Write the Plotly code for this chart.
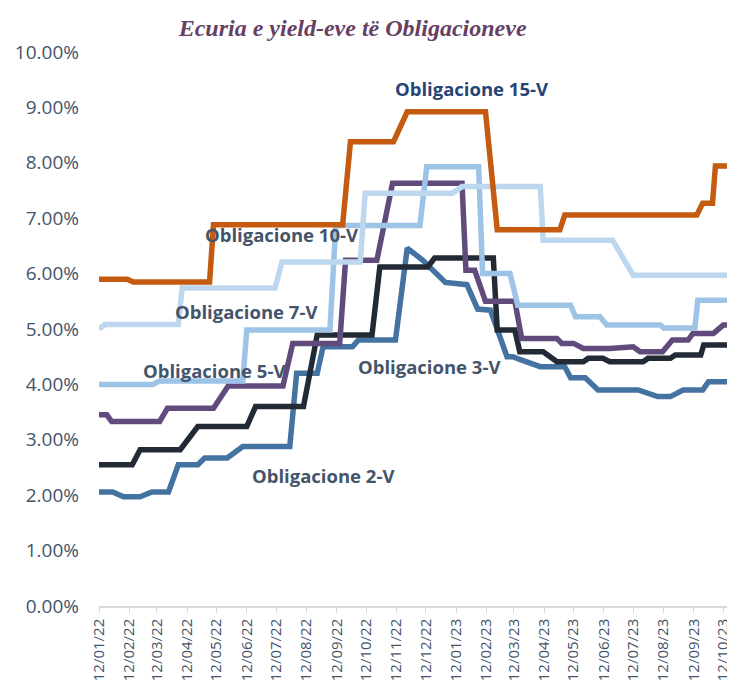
import plotly.graph_objects as go

# ---- data (dates as dd/mm/yy axis, values in %) ----
dates_15v = ["2022-01-12", "2022-02-10", "2022-02-16", "2022-05-05", "2022-05-09", "2022-09-18", "2022-09-26",
             "2022-11-09", "2022-11-23", "2023-02-11", "2023-02-23", "2023-04-28", "2023-05-03", "2023-09-15",
             "2023-09-21", "2023-10-01", "2023-10-04", "2023-10-24"]
yield_15v = [5.90, 5.90, 5.85, 5.85, 6.88, 6.88, 8.38, 8.38, 8.92, 8.92, 6.79, 6.79, 7.06, 7.06, 7.27, 7.27, 7.94, 7.94]

dates_10v = ["2022-01-12", "2022-01-18", "2022-04-03", "2022-04-07", "2022-07-11", "2022-07-18", "2022-10-06",
             "2022-10-11", "2023-01-08", "2023-01-18", "2023-04-08", "2023-04-11", "2023-06-21", "2023-07-12",
             "2023-10-22", "2023-10-24"]
yield_10v = [5.00, 5.08, 5.08, 5.74, 5.74, 6.21, 6.21, 7.45, 7.45, 7.57, 7.57, 6.60, 6.60, 5.97, 5.97, 6.12]

dates_7v = ["2022-01-12", "2022-03-08", "2022-03-15", "2022-06-08", "2022-06-12", "2022-09-05", "2022-09-11",
            "2022-12-06", "2022-12-13", "2023-02-04", "2023-02-08", "2023-03-08", "2023-03-16", "2023-05-09",
            "2023-05-14", "2023-06-08", "2023-06-15", "2023-08-09", "2023-08-12", "2023-09-13", "2023-09-16",
            "2023-10-24"]
yield_7v = [4.00, 4.00, 4.06, 4.06, 4.98, 4.98, 6.87, 6.87, 7.93, 7.93, 6.00, 6.00, 5.43, 5.43,
            5.22, 5.22, 5.07, 5.07, 5.02, 5.02, 5.52, 5.52]

dates_5v = ["2022-01-12", "2022-01-20", "2022-01-25", "2022-03-15", "2022-03-23", "2022-05-09", "2022-05-24",
            "2022-07-19", "2022-07-29", "2022-09-15", "2022-09-21", "2022-10-23", "2022-11-08", "2023-01-18",
            "2023-01-22", "2023-01-31", "2023-02-11", "2023-03-13", "2023-03-20", "2023-04-25", "2023-04-30",
            "2023-05-12", "2023-05-22", "2023-06-18", "2023-07-12", "2023-07-19", "2023-08-11", "2023-08-21",
            "2023-09-06", "2023-09-11", "2023-10-02", "2023-10-12", "2023-10-24"]
yield_5v = [3.45, 3.45, 3.33, 3.33, 3.57, 3.57, 3.97, 3.97, 4.74, 4.74, 6.24, 6.24, 7.63, 7.63,
            6.06, 6.06, 5.50, 5.50, 4.83, 4.83, 4.74, 4.74, 4.65, 4.65, 4.68, 4.59, 4.59, 4.80,
            4.80, 4.92, 4.92, 5.07, 5.07]

dates_3v = ["2022-01-12", "2022-02-15", "2022-02-23", "2022-04-05", "2022-04-23", "2022-06-12", "2022-06-21",
            "2022-08-09", "2022-08-23", "2022-10-18", "2022-10-26", "2022-12-14", "2022-12-21", "2023-02-19",
            "2023-02-23", "2023-03-13", "2023-03-18", "2023-04-11", "2023-04-25", "2023-05-22", "2023-05-27",
            "2023-06-11", "2023-06-18", "2023-07-22", "2023-07-27", "2023-08-19", "2023-08-24", "2023-09-19",
            "2023-09-22", "2023-10-19", "2023-10-24"]
yield_3v = [2.55, 2.55, 2.82, 2.82, 3.24, 3.24, 3.60, 3.60, 4.89, 4.89, 6.12, 6.12, 6.28, 6.28,
            4.98, 4.98, 4.59, 4.59, 4.41, 4.41, 4.47, 4.47, 4.41, 4.41, 4.47, 4.47, 4.53, 4.53,
            4.71, 4.71, 4.66]

dates_2v = ["2022-01-12", "2022-01-26", "2022-02-06", "2022-02-23", "2022-03-07", "2022-03-24", "2022-04-03",
            "2022-04-23", "2022-04-30", "2022-05-23", "2022-06-08", "2022-07-26", "2022-08-02", "2022-08-23",
            "2022-08-29", "2022-09-28", "2022-10-04", "2022-11-11", "2022-11-23", "2022-12-09", "2023-01-01",
            "2023-01-23", "2023-02-03", "2023-02-16", "2023-03-05", "2023-03-11", "2023-03-18", "2023-04-08",
            "2023-05-03", "2023-05-09", "2023-05-24", "2023-06-06", "2023-07-17", "2023-08-06", "2023-08-19",
            "2023-09-01", "2023-09-21", "2023-09-27", "2023-10-24"]
yield_2v = [2.06, 2.06, 1.97, 1.97, 2.06, 2.06, 2.55, 2.55, 2.67, 2.67, 2.88, 2.88, 4.20, 4.20,
            4.68, 4.68, 4.80, 4.80, 6.46, 6.24, 5.84, 5.80, 5.36, 5.34, 4.50, 4.50, 4.45, 4.32,
            4.32, 4.12, 4.12, 3.90, 3.90, 3.78, 3.78, 3.90, 3.90, 4.05, 4.05]

tick_dates = ["2022-01-12", "2022-02-12", "2022-03-12", "2022-04-12", "2022-05-12", "2022-06-12",
              "2022-07-12", "2022-08-12", "2022-09-12", "2022-10-12", "2022-11-12", "2022-12-12",
              "2023-01-12", "2023-02-12", "2023-03-12", "2023-04-12", "2023-05-12", "2023-06-12",
              "2023-07-12", "2023-08-12", "2023-09-12", "2023-10-12"]
y_ticks = [0, 1, 2, 3, 4, 5, 6, 7, 8, 9, 10]

series = [
    ("Obligacione 2-V", dates_2v, yield_2v, "#4473A1"),
    ("Obligacione 3-V", dates_3v, yield_3v, "#222A35"),
    ("Obligacione 5-V", dates_5v, yield_5v, "#614B7D"),
    ("Obligacione 7-V", dates_7v, yield_7v, "#9DC3E6"),
    ("Obligacione 10-V", dates_10v, yield_10v, "#BDD7EE"),
    ("Obligacione 15-V", dates_15v, yield_15v, "#C55A11"),
]

fig = go.Figure()
for name, xs, ys, col in series:
    fig.add_trace(go.Scatter(x=xs, y=ys, mode="lines", name=name,
                             line=dict(color=col, width=5.5), hoverinfo="x+y+name"))

labels = [
    ("Obligacione 15-V", "2023-01-28", 9.35, "#264478"),
    ("Obligacione 10-V", "2022-07-18", 6.71, "#44546A"),
    ("Obligacione 7-V", "2022-06-12", 5.32, "#44546A"),
    ("Obligacione 5-V", "2022-05-10", 4.26, "#44546A"),
    ("Obligacione 3-V", "2022-12-16", 4.33, "#44546A"),
    ("Obligacione 2-V", "2022-08-29", 2.36, "#44546A"),
]
for txt, lx, ly, col in labels:
    fig.add_annotation(x=lx, y=ly, text=txt, showarrow=False, xref="x", yref="y",
                       font=dict(family="Open Sans", size=18.5, color=col, weight="bold"))

# page body has an 8px margin, so the figure is sized/offset to fill the window
fig.update_layout(
    width=727, height=683,
    margin=dict(l=91, r=0, t=44, b=85),
    paper_bgcolor="white", plot_bgcolor="white",
    showlegend=False,
    title=dict(text="<b><i>Ecuria e yield-eve të Obligacioneve</i></b>",
               font=dict(family="Liberation Serif", size=24, color="#673F64"),
               x=0.474, xanchor="center", y=0.972, yanchor="middle"),
)
fig.update_xaxes(
    type="date", range=["2022-01-12", "2023-10-24"], automargin=False,
    tickvals=tick_dates, tickformat="%d/%m/%y", tickangle=-90,
    tickfont=dict(family="Open Sans", size=15, color="#44546A"),
    showgrid=False, showline=True, linecolor="#D9D9D9", linewidth=1.5,
    ticks="outside", ticklen=5, tickcolor="#D9D9D9", zeroline=False,
)
fig.update_yaxes(
    range=[0, 10], tickvals=y_ticks, ticktext=[f"{v:.2f}%" for v in y_ticks], automargin=False,
    tickfont=dict(family="Open Sans", size=19, color="#44546A"),
    showgrid=False, showline=False, zeroline=False, ticks="", ticklabelstandoff=19,
)
fig.write_html("out.html")
